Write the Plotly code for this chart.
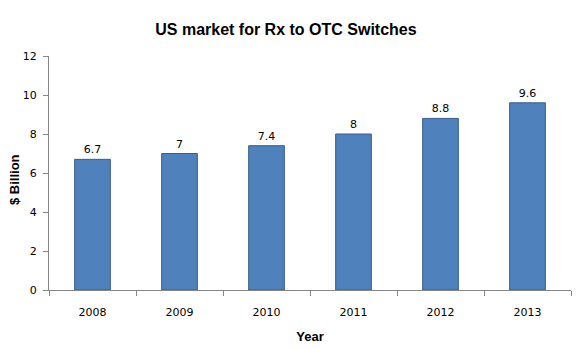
import plotly.graph_objects as go

years = ["2008", "2009", "2010", "2011", "2012", "2013"]
values = [6.7, 7, 7.4, 8, 8.8, 9.6]
y_ticks = [0, 2, 4, 6, 8, 10, 12]

fig = go.Figure(go.Bar(
    x=years, y=values,
    text=[str(v) for v in values], textposition="outside",
    textfont=dict(family="DejaVu Sans", size=11, color="#000000"),
    marker=dict(color="#4F81BD", line=dict(color="#385D8A", width=1)),
    cliponaxis=False,
))

fig.update_layout(
    width=580, height=348,
    margin=dict(l=49, r=9, t=56, b=58),
    paper_bgcolor="white", plot_bgcolor="white",
    bargap=0.59,
    showlegend=False,
    title=dict(text="<b>US market for Rx to OTC Switches</b>", x=0.493, xanchor="center",
               y=0.915, yanchor="middle",
               font=dict(family="Liberation Sans", size=16, color="#000000")),
    xaxis=dict(
        title=dict(text="<b>Year</b>", font=dict(family="Liberation Sans", size=13, color="#000000"), standoff=13),
        showline=True, linecolor="#868686", linewidth=1,
        ticks="outside", tickson="boundaries", ticklen=5, tickcolor="#868686",
        ticklabelstandoff=12, automargin=False,
        tickfont=dict(family="DejaVu Sans", size=11, color="#000000"),
        showgrid=False,
    ),
    yaxis=dict(
        range=[0, 12], tickvals=y_ticks,
        showline=True, linecolor="#868686", linewidth=1,
        ticks="outside", ticklen=5, tickcolor="#868686",
        ticklabelstandoff=4, automargin=False,
        tickfont=dict(family="DejaVu Sans", size=11, color="#000000"),
        showgrid=False, zeroline=False,
    ),
    annotations=[dict(
        text="<b>$ Billion</b>", textangle=-90, showarrow=False,
        xref="paper", yref="paper", x=-0.067, y=0.47, xanchor="center", yanchor="middle",
        font=dict(family="Liberation Sans", size=13, color="#000000"),
    )],
)

fig.write_html("out.html")
